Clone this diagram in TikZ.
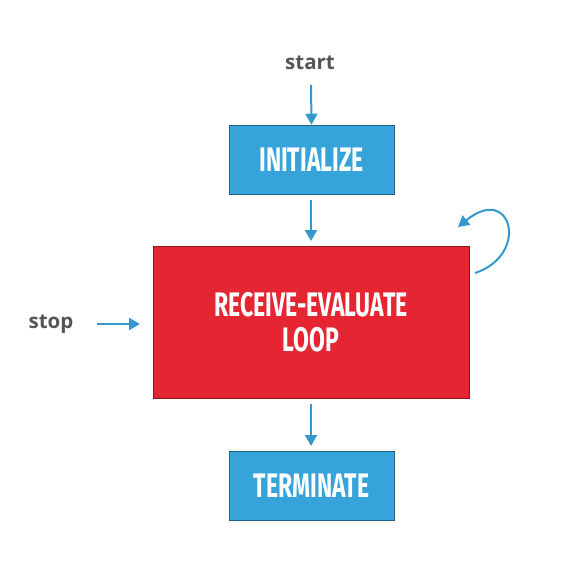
\documentclass[tikz,border=0pt]{standalone}
\usepackage{fontspec}
\setmainfont{Open Sans}
\newfontfamily\boxfont[FakeStretch=0.675]{Fira Sans}
\usetikzlibrary{arrows.meta}
\definecolor{boxblue}{HTML}{36A3DA}
\definecolor{boxred}{HTML}{E52632}
\definecolor{arrblue}{HTML}{3399CC}
\definecolor{lbl}{HTML}{555555}
\begin{document}
\begin{tikzpicture}[x=1pt,y=-1pt,
  bluebox/.style={fill=boxblue,draw=boxblue!60!black,line width=0.6pt,minimum width=165pt,minimum height=69pt,inner sep=0pt,text=white,font=\boxfont\fontsize{34}{35}\selectfont\bfseries},
  redbox/.style={fill=boxred,draw=boxred!60!black,line width=0.6pt,minimum width=316pt,minimum height=152pt,inner sep=0pt,text=white,align=center,font=\boxfont\fontsize{34}{35}\selectfont\bfseries},
  lbltext/.style={text=lbl,font=\fontsize{20.5}{22}\selectfont\bfseries,inner sep=0pt},
  arr/.style={draw=arrblue,line width=2pt,-{Triangle[length=11pt,width=12pt]}}]
\useasboundingbox (0,0) rectangle (565,578);
\node[bluebox] (init) at (311.5,159.5) {INITIALIZE};
\node[redbox] (loop) at (311,322) {RECEIVE-EVALUATE\\LOOP};
\node[bluebox] (term) at (311.5,485.5) {TERMINATE};
\node[lbltext] (start) at (310,63) {start};
\node[lbltext] (stop) at (51,324) {stop};
\coordinate (s1) at (311,85);
\coordinate (a1) at (311,200);
\coordinate (a2) at (311,241);
\coordinate (b1) at (311,404);
\coordinate (b2) at (311,446);
\coordinate (p1) at (97,324);
\coordinate (p2) at (140,324);
\coordinate (l1) at (475,273);
\coordinate (l2) at (458,227);
\draw[arr] (s1) -- (init.north);
\draw[arr] (a1) -- (a2);
\draw[arr] (b1) -- (b2);
\draw[arr] (p1) -- (p2);
\draw[arr] (l1) .. controls (530,255) and (512,183) .. (l2);
\end{tikzpicture}
\end{document}
